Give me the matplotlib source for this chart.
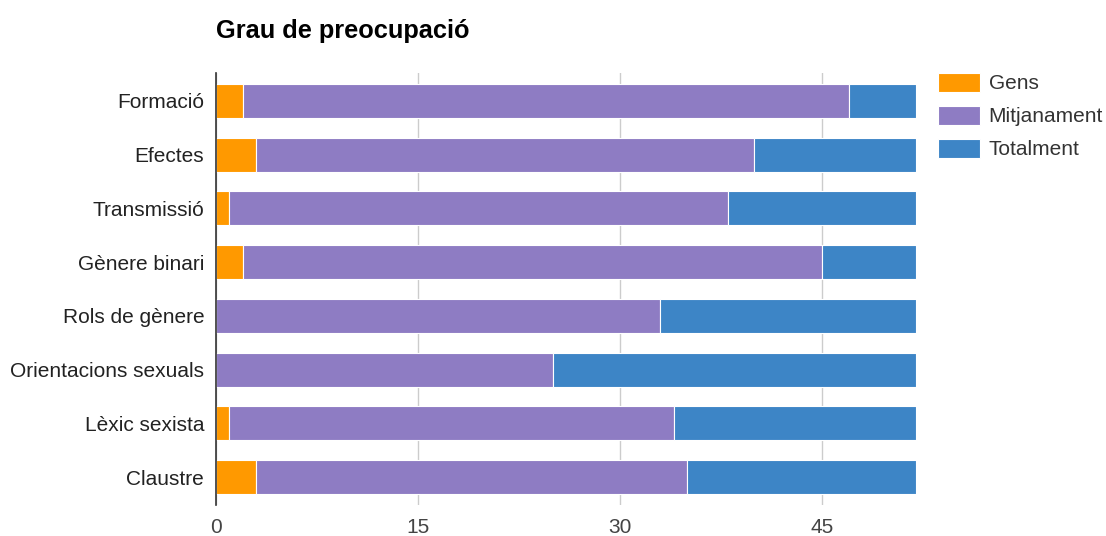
import matplotlib.pyplot as plt
import numpy as np

plt.rcParams['font.family'] = ['Liberation Sans', 'DejaVu Sans']

categories = ["Formació", "Efectes", "Transmissió", "Gènere binari",
              "Rols de gènere", "Orientacions sexuals", "Lèxic sexista", "Claustre"]
gens = [2, 3, 1, 2, 0, 0, 1, 3]
mitjanament = [45, 37, 37, 43, 33, 25, 33, 32]
totalment = [5, 12, 14, 7, 19, 27, 18, 17]
series_names = ["Gens", "Mitjanament", "Totalment"]
colors = ["#FF9900", "#8E7CC3", "#3D85C6"]

fig = plt.figure(figsize=(11.06, 5.36), dpi=100)
ax = fig.add_axes([216 / 1106, 1 - 505 / 536, 700 / 1106, 432 / 536])

y = np.arange(len(categories))
left = np.zeros(len(categories))
for name, vals, col in zip(series_names, [gens, mitjanament, totalment], colors):
    vals = np.array(vals, dtype=float)
    ax.barh(y, vals, left=left, height=0.63, color=col, edgecolor="white",
            linewidth=0.8, label=name, zorder=3)
    left += vals

ax.set_ylim(len(categories) - 1 + 0.52, -0.52)
ax.set_xlim(0, 52)
ax.set_xticks([0, 15, 30, 45])
ax.set_yticks(y)
ax.set_yticklabels(categories)
ax.tick_params(axis="both", length=0, labelsize=15, colors="#222222")
ax.tick_params(axis="x", pad=9.5, labelcolor="#444444")
ax.tick_params(axis="y", pad=8.5)
ax.grid(axis="x", color="#cccccc", linewidth=1, zorder=0)
for s in ["top", "right", "bottom"]:
    ax.spines[s].set_visible(False)
ax.spines["left"].set_color("#333333")
ax.spines["left"].set_linewidth(1.2)
ax.spines["left"].set_zorder(4)

fig.text(216 / 1106, 1 - 31 / 536, "Grau de preocupació", fontsize=18.3,
         fontweight="bold", va="center", ha="left", color="#000000")

leg = ax.legend(loc="upper left", bbox_to_anchor=(938 / 1106, 1 - 73 / 536),
                bbox_transform=fig.transFigure, frameon=False, fontsize=15,
                handlelength=2.0, handleheight=1.0, labelspacing=0.6,
                handletextpad=0.43, borderaxespad=0, borderpad=0)
for t in leg.get_texts():
    t.set_color("#333333")

fig.savefig("out.png", dpi=100)
